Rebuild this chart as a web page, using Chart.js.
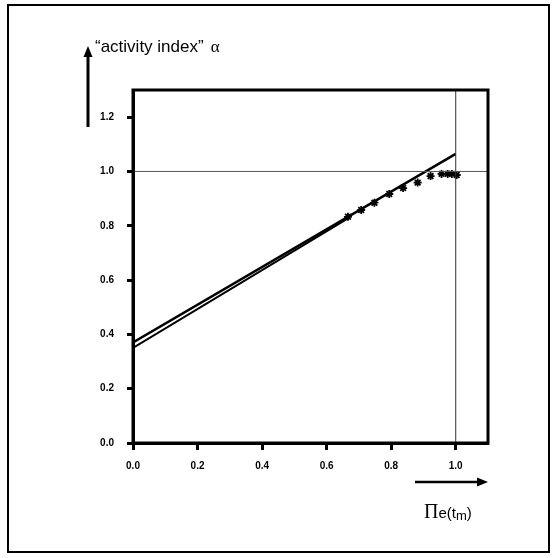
<!DOCTYPE html>
<html>
<head>
<meta charset="utf-8">
<script src="https://cdn.jsdelivr.net/npm/chart.js@4.4.1/dist/chart.umd.min.js"></script>
<style>
html,body{margin:0;padding:0;background:#fff;}
#wrap{position:relative;width:557px;height:558px;}
</style>
</head>
<body>
<div id="wrap"><canvas id="c" width="557" height="558"></canvas></div>
<script>
// Measured points: x = Pi_e(t_m), y = activity index alpha
const pointX = [0.666, 0.707, 0.748, 0.794, 0.837, 0.882, 0.922, 0.956, 0.975, 0.988, 1.003];
const pointY = [0.833, 0.858, 0.885, 0.917, 0.939, 0.959, 0.983, 0.991, 0.991, 0.991, 0.987];
// Fitted line 1 (upper, to x = 1.0)
const line1X = [0.0, 1.0];
const line1Y = [0.37, 1.065];
// Fitted line 2 (lower, to the first point)
const line2X = [0.0, 0.67];
const line2Y = [0.35, 0.83];
// Reference lines
const refHX = [0.0, 1.1];
const refHY = [1.0, 1.0];
const refVX = [1.0, 1.0];
const refVY = [0.0, 1.3];
// Tick labels
const xTicks = [0.0, 0.2, 0.4, 0.6, 0.8, 1.0];
const yTicks = [0.0, 0.2, 0.4, 0.6, 0.8, 1.0, 1.2];

const zip = (xs, ys) => xs.map((x, i) => ({x: x, y: ys[i]}));

const decor = {
  id: 'decor',
  afterDraw(chart) {
    const ctx = chart.ctx;
    const a = chart.chartArea;
    ctx.save();
    ctx.strokeStyle = '#000';
    ctx.fillStyle = '#000';
    // outer frame
    ctx.lineWidth = 2;
    ctx.strokeRect(8, 5, 541, 547);
    // plot frame
    ctx.lineWidth = 3;
    ctx.strokeRect(a.left, a.top, a.right - a.left, a.bottom - a.top);
    // y arrow
    ctx.lineWidth = 3;
    ctx.beginPath(); ctx.moveTo(88, 127); ctx.lineTo(88, 56); ctx.stroke();
    ctx.beginPath(); ctx.moveTo(88, 46); ctx.lineTo(83.5, 57); ctx.lineTo(92.5, 57); ctx.closePath(); ctx.fill();
    // x arrow
    ctx.lineWidth = 2.5;
    ctx.beginPath(); ctx.moveTo(415, 482); ctx.lineTo(479, 482); ctx.stroke();
    ctx.beginPath(); ctx.moveTo(488, 482); ctx.lineTo(477, 477.5); ctx.lineTo(477, 486.5); ctx.closePath(); ctx.fill();
    // y title
    ctx.textBaseline = 'alphabetic';
    ctx.textAlign = 'left';
    ctx.font = '17px "Liberation Sans", Arial, sans-serif';
    const t1 = '\u201Cactivity index\u201D';
    ctx.fillText(t1, 95, 52);
    const w1 = ctx.measureText(t1).width;
    ctx.font = '17px "Liberation Serif", serif';
    ctx.fillText('\u03B1', 95 + w1 + 7, 52);
    // x title
    let x = 424;
    ctx.font = '20px "Liberation Serif", serif';
    ctx.fillText('\u03A0', x, 518); x += ctx.measureText('\u03A0').width;
    ctx.font = '15px "Liberation Sans", Arial, sans-serif';
    ctx.fillText('e(t', x, 518); x += ctx.measureText('e(t').width;
    ctx.font = '13px "Liberation Sans", Arial, sans-serif';
    ctx.fillText('m', x, 520); x += ctx.measureText('m').width;
    ctx.font = '15px "Liberation Sans", Arial, sans-serif';
    ctx.fillText(')', x, 518);
    ctx.restore();
  }
};

new Chart(document.getElementById('c'), {
  type: 'scatter',
  data: {
    datasets: [
      {data: zip(refHX, refHY), showLine: true, borderColor: '#555', borderWidth: 1, pointRadius: 0},
      {data: zip(refVX, refVY), showLine: true, borderColor: '#333', borderWidth: 1, pointRadius: 0},
      {data: zip(line1X, line1Y), showLine: true, borderColor: '#000', borderWidth: 2.5, pointRadius: 0},
      {data: zip(line2X, line2Y), showLine: true, borderColor: '#000', borderWidth: 2, pointRadius: 0},
      {data: zip(pointX, pointY), showLine: false, pointStyle: 'star', pointRadius: 4, borderWidth: 1.8,
       borderColor: '#000', backgroundColor: '#000'}
    ]
  },
  options: {
    responsive: false,
    animation: false,
    devicePixelRatio: 1,
    layout: {padding: {top: 90, right: 69, bottom: 0, left: 0}},
    plugins: {legend: {display: false}, tooltip: {enabled: false}},
    scales: {
      x: {
        type: 'linear', min: 0, max: 1.1,
        afterFit(s) { s.height = 115; },
        afterBuildTicks(s) { s.ticks = xTicks.map(v => ({value: v})); },
        grid: {drawOnChartArea: false, drawTicks: true, tickLength: 7, tickWidth: 3, tickColor: '#000'},
        border: {display: true, color: '#000', width: 3},
        ticks: {color: '#000', padding: 10, font: {family: '"Liberation Sans", Arial, sans-serif', size: 10, weight: 'bold'},
                callback: v => Number(v).toFixed(1)}
      },
      y: {
        type: 'linear', min: 0, max: 1.3,
        afterFit(s) { s.width = 133; },
        afterBuildTicks(s) { s.ticks = yTicks.map(v => ({value: v})); },
        grid: {drawOnChartArea: false, drawTicks: true, tickLength: 6, tickWidth: 3, tickColor: '#000'},
        border: {display: true, color: '#000', width: 3},
        ticks: {color: '#000', padding: 13, font: {family: '"Liberation Sans", Arial, sans-serif', size: 10, weight: 'bold'},
                callback: v => Number(v).toFixed(1)}
      }
    }
  },
  plugins: [decor]
});
</script>
</body>
</html>
